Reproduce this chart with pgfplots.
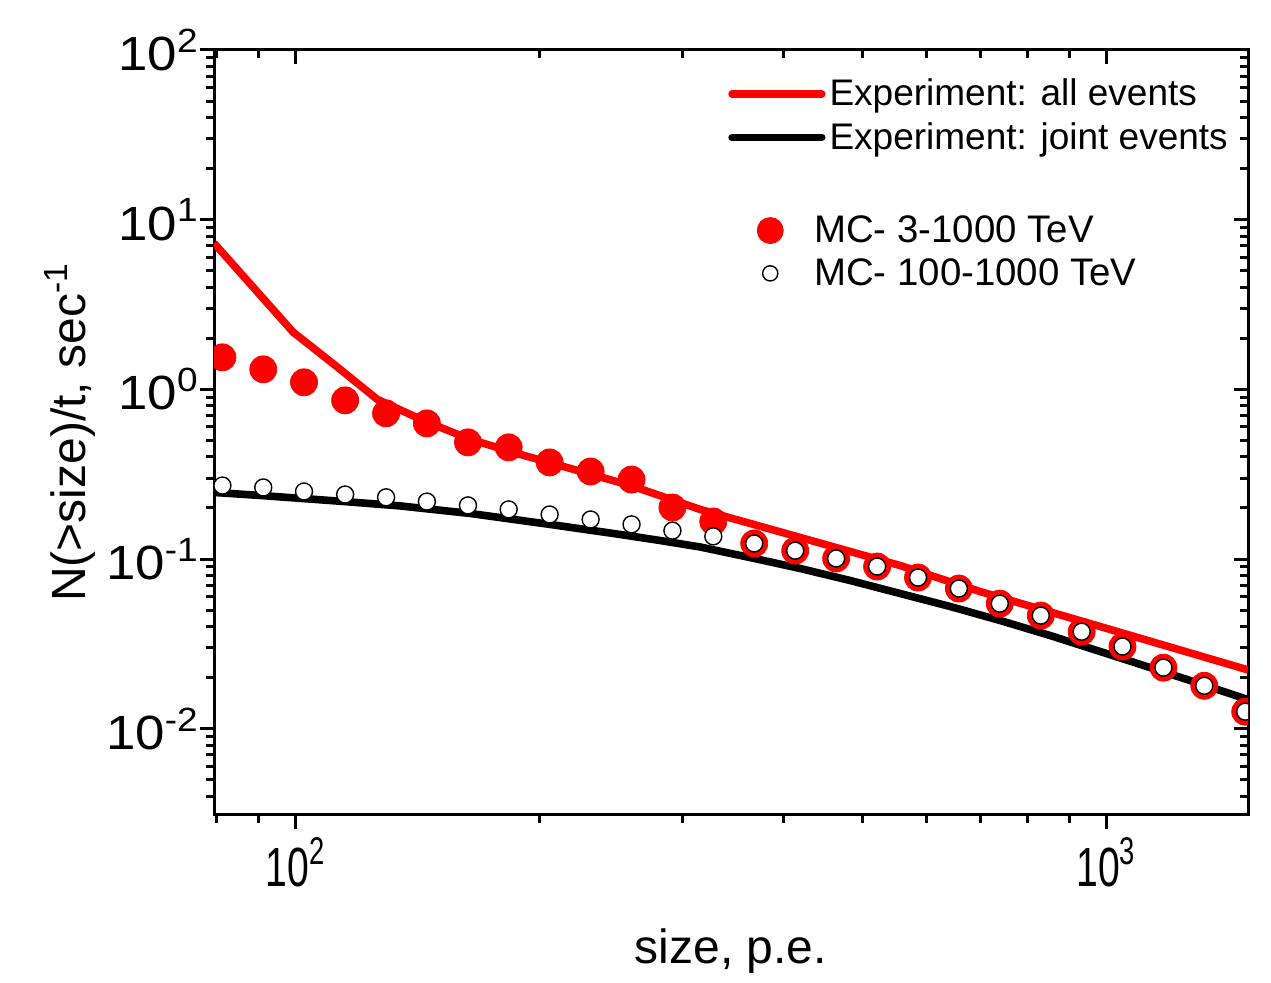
\documentclass[border=0pt]{standalone}
\usepackage{fontspec}
\setmainfont{Liberation Sans}
\usepackage{pgfplots}
\usepackage{pgfplotstable}
\pgfplotsset{compat=1.18}
\usetikzlibrary{calc}

% experiment, all events
\pgfplotstableread{
x y
79.4 7.27
99.4 2.17
112.0 1.385
126.2 0.873
144.6 0.648
164.4 0.507
189.4 0.4136
218.3 0.342
258.9 0.2714
315.8 0.1959
419.5 0.1339
557.2 0.0915
699.1 0.0643
983.1 0.0400
1496 0.0222
}\allev

% experiment, joint events
\pgfplotstableread{
x y
79.4 0.2468
90.5 0.2369
114.6 0.2184
134.7 0.2055
164.4 0.1855
206.3 0.1598
251.6 0.1395
281.9 0.1285
315.8 0.1177
363.9 0.1020
419.5 0.0879
483.4 0.0747
557.2 0.0626
642.0 0.0525
740.0 0.0434
853.1 0.0354
983.1 0.0285
1133.4 0.0229
1306.0 0.0184
1496 0.01483
}\jointev

% MC 3-1000 TeV
\pgfplotstableread{
x y
81.3 1.544
91.3 1.312
102.5 1.100
115.2 0.861
129.4 0.722
145.3 0.630
163.3 0.487
183.3 0.455
205.9 0.371
231.3 0.328
259.8 0.294
291.8 0.2012
327.7 0.1664
368.1 0.1235
413.5 0.112
464.5 0.1007
521.8 0.0903
586.1 0.0778
658.2 0.0670
739.3 0.0546
830.5 0.0464
932.7 0.0373
1047.4 0.0305
1176.5 0.0229
1321.3 0.0179
1484.1 0.0126
}\mcall

% MC 100-1000 TeV
\pgfplotstableread{
x y
81.3 0.271
91.3 0.264
102.5 0.250
115.2 0.240
129.4 0.231
145.3 0.218
163.3 0.207
183.3 0.196
205.9 0.183
231.3 0.171
259.8 0.160
291.8 0.147
327.7 0.136
368.1 0.1235
413.5 0.112
464.5 0.1007
521.8 0.0903
586.1 0.0778
658.2 0.0670
739.3 0.0546
830.5 0.0464
932.7 0.0373
1047.4 0.0305
1176.5 0.0229
1321.3 0.0179
1484.1 0.0126
}\mchigh

\begin{document}
\begin{tikzpicture}
\begin{axis}[
  scale only axis, width=517pt, height=382.5pt,
  xmode=log, ymode=log,
  xmin=79.4, xmax=1496, ymin=0.0031, ymax=100,
  xtick={100,1000}, ytick={0.01,0.1,1,10,100},
  minor xtick={80,90,200,300,400,500,600,700,800,900},
  minor ytick={0.004,0.005,0.006,0.007,0.008,0.009,
    0.02,0.03,0.04,0.05,0.06,0.07,0.08,0.09,
    0.2,0.3,0.4,0.5,0.6,0.7,0.8,0.9,
    2,3,4,5,6,7,8,9,20,30,40,50,60,70,80,90},
  tick style={black, line width=1.5pt},
  major tick length=7pt, minor tick length=4pt,
  axis line style={line width=1.5pt},
  tick align=outside, xtick pos=left, ytick pos=left,
  xticklabels={10\textsuperscript{2},10\textsuperscript{3}},
  yticklabels={10\textsuperscript{-2},10\textsuperscript{-1},10\textsuperscript{0},10\textsuperscript{1},10\textsuperscript{2}},
  xticklabel style={font=\fontsize{23}{23}\selectfont, xscale=0.85, yscale=1.2},
  yticklabel style={font=\fontsize{24}{24}\selectfont, xscale=1.1, xshift=3pt},
  xlabel={size, p.e.},
  ylabel={N(>size)/t, sec\textsuperscript{-1}},
  label style={font=\fontsize{24}{24}\selectfont},
  xlabel style={at={(axis description cs:0.5,-0.14)}, anchor=north},
  ylabel style={at={(axis description cs:-0.108,0.5)}, anchor=south},
  clip marker paths=true,
  legend cell align=left,
  legend image code/.code={\draw[#1] (0pt,0pt) -- (45pt,0pt);},
  legend style={draw=none, fill=none, inner sep=0pt,
    at={(0.497,0.914)}, anchor=west, row sep=2.8pt,
    font=\fontsize{18.5}{18.5}\selectfont},
]
\addplot[black, line width=3.8pt, line join=round, forget plot] table {\jointev};
\addplot[red, line width=3.8pt, line join=round, forget plot] table {\allev};
\addplot[only marks, mark=*, red, mark size=6.75pt, forget plot] table {\mcall};
\addplot[only marks, mark=*, mark size=4.25pt,
  mark options={fill=white, draw=black, line width=0.7pt}, forget plot] table {\mchigh};
\addlegendimage{red, line width=3.6pt, line cap=round}
\addlegendentry{Experiment: all events}
\addlegendimage{black, line width=3.6pt, line cap=round}
\addlegendentry{Experiment: joint events}
\end{axis}

\begin{axis}[
  scale only axis, width=517pt, height=382.5pt,
  xmode=log, ymode=log,
  xmin=79.4, xmax=1496, ymin=0.0031, ymax=100,
  xtick={100,1000}, ytick={0.01,0.1,1,10,100},
  minor xtick={80,90,200,300,400,500,600,700,800,900},
  minor ytick={0.004,0.005,0.006,0.007,0.008,0.009,
    0.02,0.03,0.04,0.05,0.06,0.07,0.08,0.09,
    0.2,0.3,0.4,0.5,0.6,0.7,0.8,0.9,
    2,3,4,5,6,7,8,9,20,30,40,50,60,70,80,90},
  tick style={black, line width=1.5pt},
  major tick length=7pt, minor tick length=4pt,
  axis line style={draw=none},
  tick align=inside, xtick pos=right, ytick pos=right,
  xticklabels={}, yticklabels={},
  legend cell align=left,
  legend image code/.code={\path[draw=none, fill=none] (-7pt,-7pt) rectangle (20pt,7pt);
    \draw[#1] plot coordinates {(0pt,0pt)};},
  legend style={draw=none, fill=none, inner sep=0pt,
    at={(0.524,0.736)}, anchor=west, row sep=2.5pt,
    font=\fontsize{19.2}{19.2}\selectfont},
]
\addlegendimage{only marks, mark=*, red, mark size=6.5pt}
\addlegendentry{MC- 3-1000 TeV}
\addlegendimage{only marks, mark=*, mark size=3.8pt,
  mark options={fill=white, draw=black, line width=0.7pt}}
\addlegendentry{MC- 100-1000 TeV}
\end{axis}

\pgfresetboundingbox
\path[use as bounding box] ($(current axis.south west)+(-107pt,-84pt)$)
  rectangle ($(current axis.north east)+(11.5pt,25pt)$);
\end{tikzpicture}
\end{document}
